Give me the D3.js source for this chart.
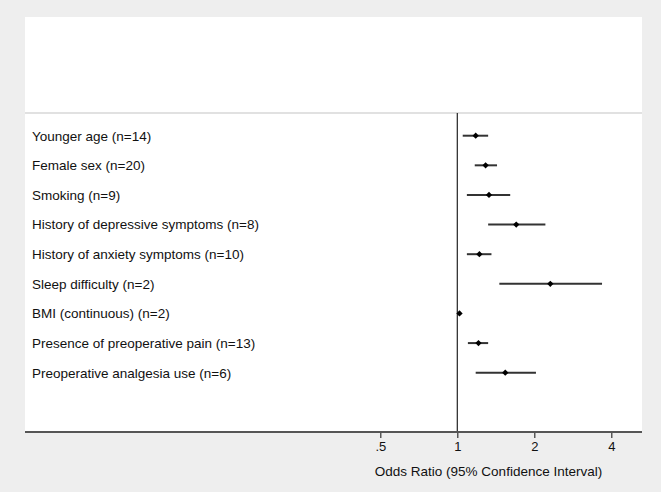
<!DOCTYPE html>
<html>
<head>
<meta charset="utf-8">
<script src="https://cdn.jsdelivr.net/npm/d3@7"></script>
<style>
  body { margin: 0; background: #eeeeee; }
  svg { display: block; }
  text { font-family: "Liberation Sans", Arial, Helvetica, sans-serif; fill: #111; }
</style>
</head>
<body>
<svg id="chart"></svg>
<script>
// forest plot data
const labels = [
  'Younger age (n=14)',
  'Female sex (n=20)',
  'Smoking (n=9)',
  'History of depressive symptoms (n=8)',
  'History of anxiety symptoms (n=10)',
  'Sleep difficulty (n=2)',
  'BMI (continuous) (n=2)',
  'Presence of preoperative pain (n=13)',
  'Preoperative analgesia use (n=6)'
];
const oddsRatio = [1.18, 1.29, 1.33, 1.70, 1.22, 2.31, 1.02, 1.21, 1.54];
const ciLow     = [1.05, 1.17, 1.09, 1.32, 1.09, 1.46, 1.01, 1.10, 1.18];
const ciHigh    = [1.32, 1.43, 1.61, 2.21, 1.36, 3.68, 1.03, 1.32, 2.03];
const tickValues = [0.5, 1, 2, 4];
const tickLabels = ['.5', '1', '2', '4'];

const width = 661, height = 492;
const plot = { left: 25, right: 642, top: 17, line: 113, bottom: 432 };

const svg = d3.select('#chart')
  .attr('width', width)
  .attr('height', height);

// white plot region
svg.append('rect')
  .attr('x', plot.left)
  .attr('y', plot.top)
  .attr('width', plot.right - plot.left)
  .attr('height', plot.bottom - plot.top)
  .attr('fill', '#fff');

const x = d3.scaleLog().base(2)
  .domain([0.5, 4])
  .range([380.3, 611.3]);

const y = d3.scalePoint()
  .domain(labels)
  .range([135.7, 372.7]);

// thin rule under the empty header area
svg.append('line')
  .attr('x1', plot.left).attr('x2', plot.right)
  .attr('y1', plot.line).attr('y2', plot.line)
  .attr('stroke', '#c4c4c4')
  .attr('stroke-width', 1.2);

// null line at OR = 1
svg.append('line')
  .attr('x1', x(1)).attr('x2', x(1))
  .attr('y1', plot.line).attr('y2', plot.bottom)
  .attr('stroke', '#222')
  .attr('stroke-width', 1.2);

// row labels
svg.append('g')
  .selectAll('text')
  .data(labels)
  .enter()
  .append('text')
  .attr('x', 32)
  .attr('y', d => y(d))
  .attr('dy', '0.36em')
  .style('font-size', '13.5px')
  .text(d => d);

// confidence intervals
const rows = labels.map((d, i) => ({ label: d, or: oddsRatio[i], lo: ciLow[i], hi: ciHigh[i] }));

svg.append('g')
  .selectAll('line')
  .data(rows)
  .enter()
  .append('line')
  .attr('x1', d => x(d.lo))
  .attr('x2', d => x(d.hi))
  .attr('y1', d => y(d.label))
  .attr('y2', d => y(d.label))
  .attr('stroke', '#333')
  .attr('stroke-width', 2);

// point estimates (small square diamonds)
svg.append('g')
  .selectAll('path')
  .data(rows)
  .enter()
  .append('path')
  .attr('d', d3.symbol().type(d3.symbolSquare).size(20))
  .attr('transform', d => `translate(${x(d.or)},${y(d.label)}) rotate(45)`)
  .attr('fill', '#000');

// x axis
const axis = d3.axisBottom(x)
  .tickValues(tickValues)
  .tickFormat((d, i) => tickLabels[i])
  .tickSize(6)
  .tickPadding(4);

const axisG = svg.append('g')
  .attr('transform', `translate(0,${plot.bottom})`)
  .call(axis);

axisG.select('.domain').remove();
axisG.append('line')
  .attr('x1', plot.left).attr('x2', plot.right)
  .attr('stroke', '#555')
  .attr('stroke-width', 2);
axisG.selectAll('.tick line').attr('stroke', '#333').attr('stroke-width', 1.2);
axisG.selectAll('.tick text')
  .style('font-size', '13px')
  .style('font-family', '"Liberation Sans", Arial, sans-serif')
  .attr('fill', '#111');

svg.append('text')
  .attr('x', 488.5)
  .attr('y', 476)
  .attr('text-anchor', 'middle')
  .style('font-size', '13.5px')
  .text('Odds Ratio (95% Confidence Interval)');
</script>
</body>
</html>
